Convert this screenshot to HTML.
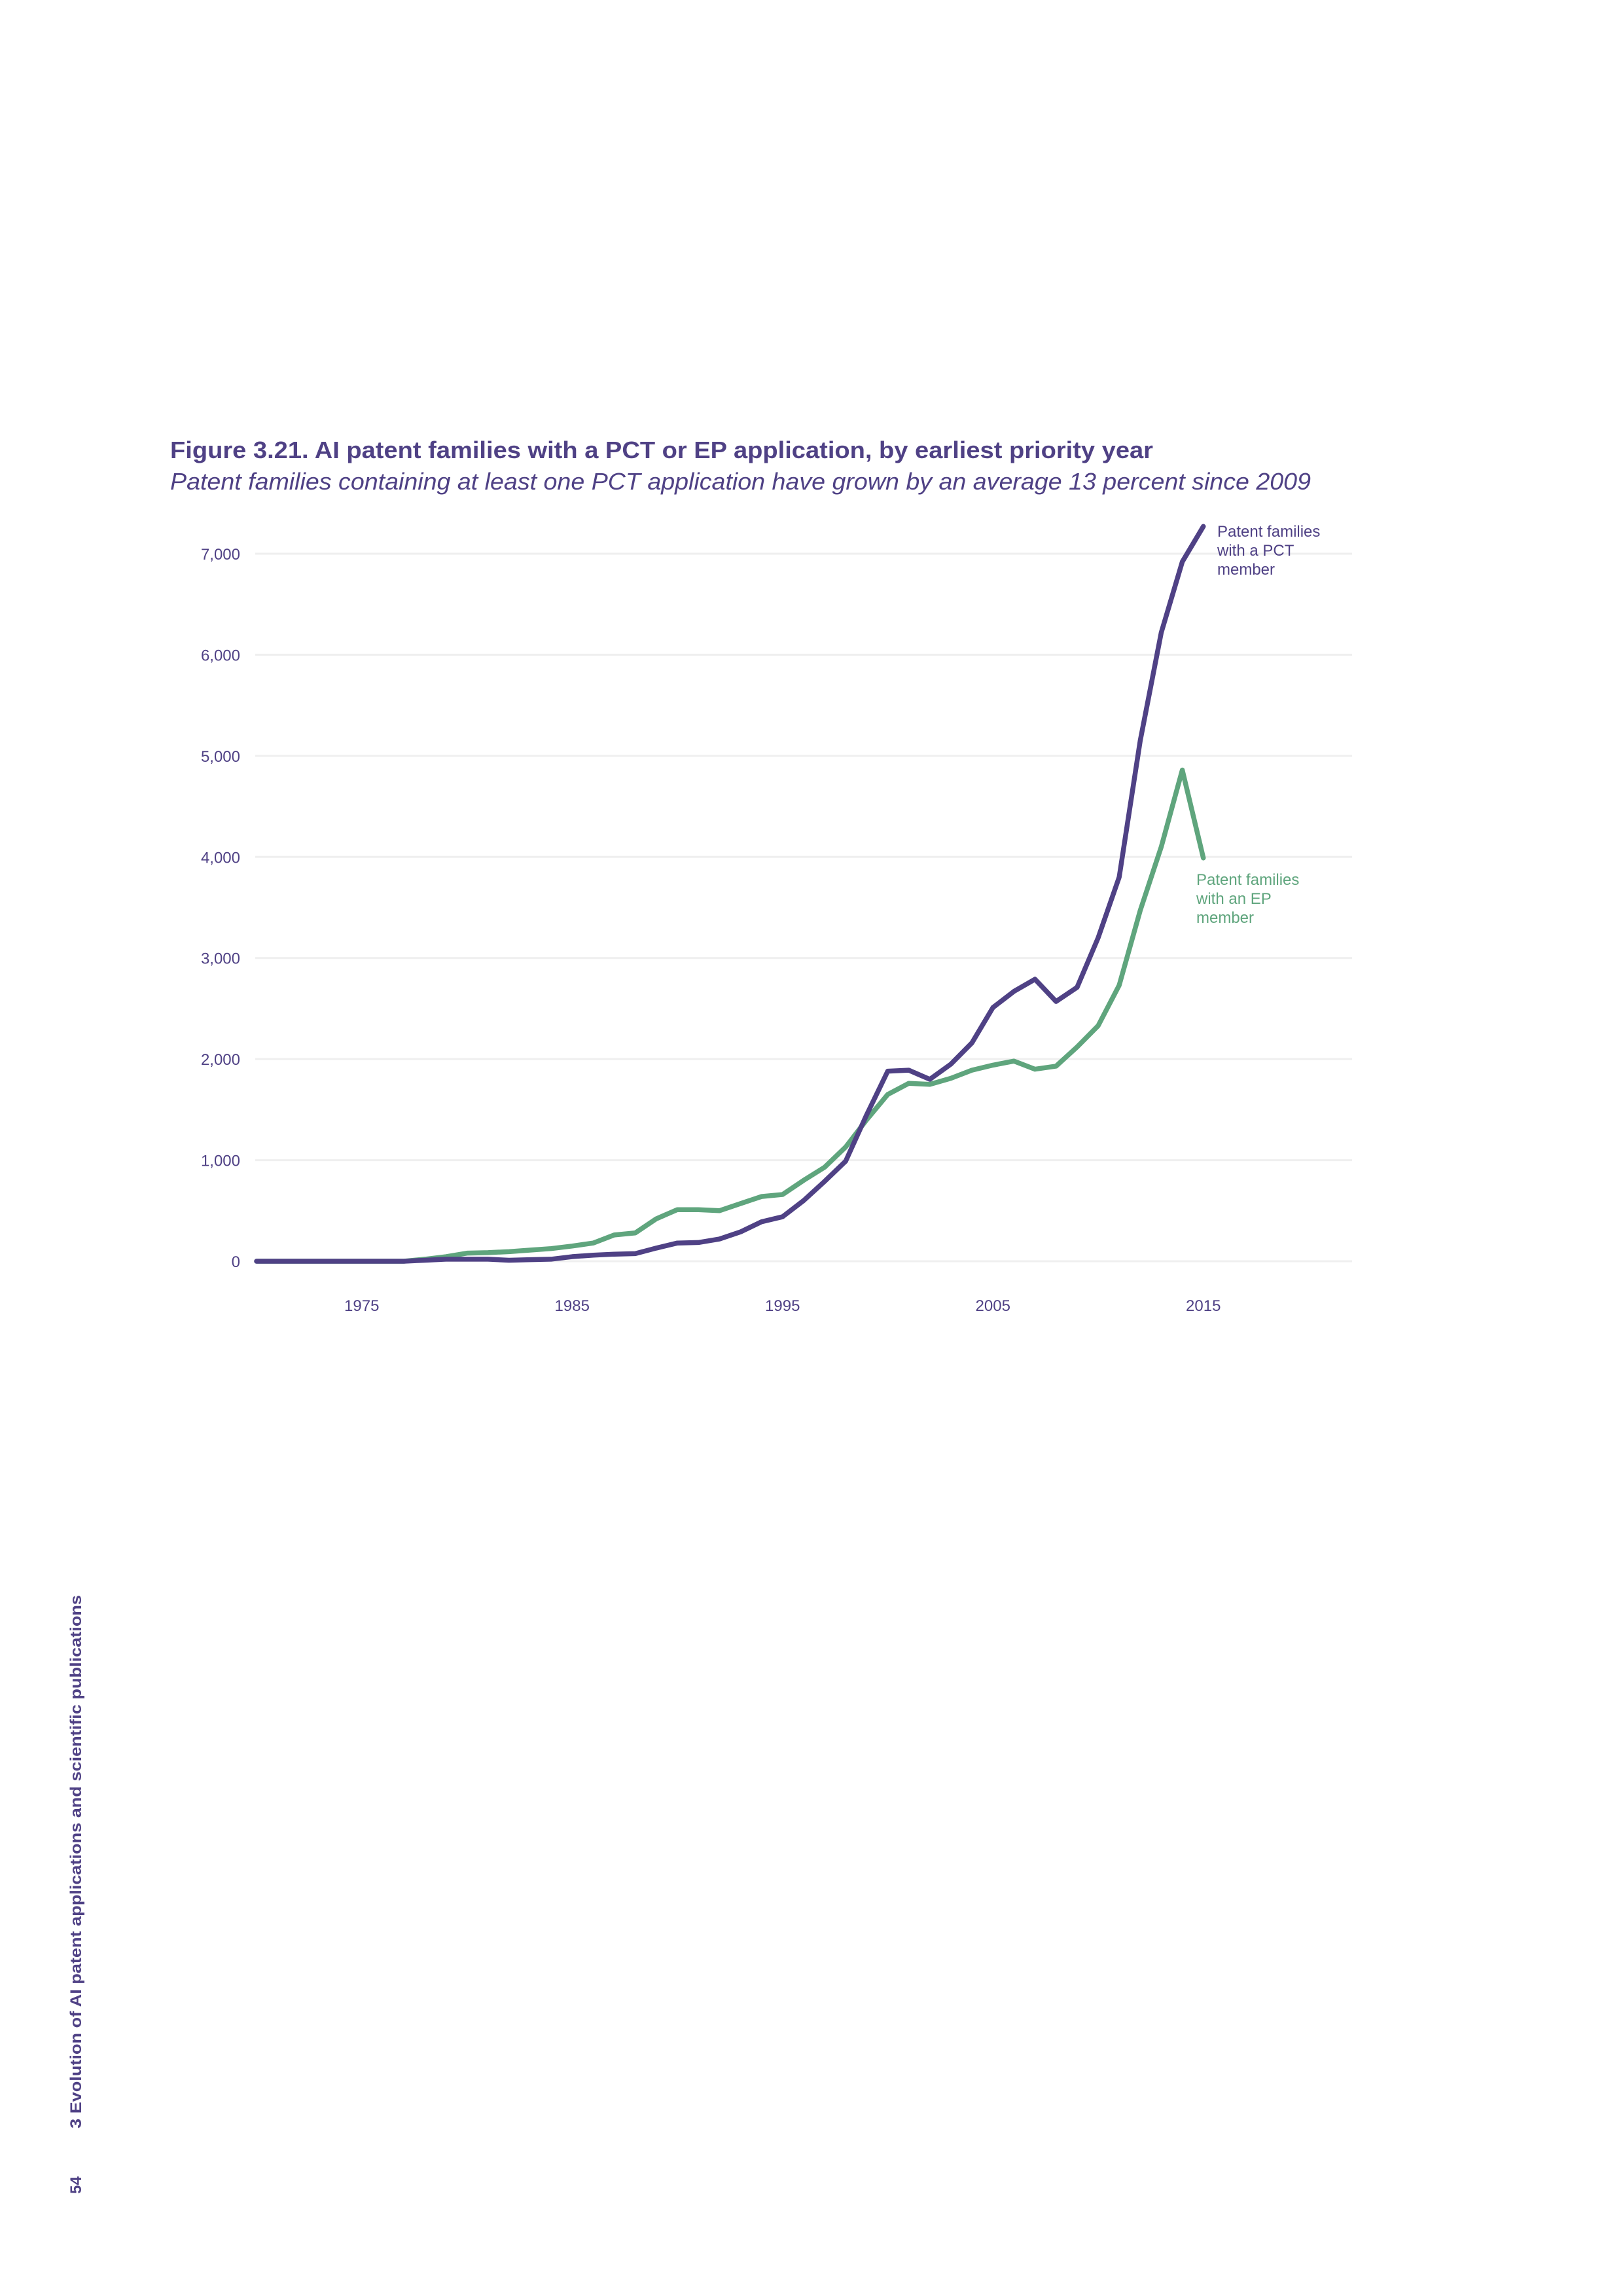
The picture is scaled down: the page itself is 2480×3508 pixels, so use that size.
<!DOCTYPE html>
<html><head><meta charset="utf-8"><style>
html,body{margin:0;padding:0;background:#fff;}
svg{display:block;font-family:"Liberation Sans",sans-serif;}
</style></head><body>
<svg id="chart" width="2480" height="3508" viewBox="0 0 2480 3508" xmlns="http://www.w3.org/2000/svg">
<text x="260" y="700" font-size="36" font-weight="bold" fill="#4f4185" textLength="1502" lengthAdjust="spacingAndGlyphs">Figure 3.21. AI patent families with a PCT or EP application, by earliest priority year</text>
<text x="260" y="748" font-size="36" font-style="italic" fill="#4f4185" textLength="1743" lengthAdjust="spacingAndGlyphs">Patent families containing at least one PCT application have grown by an average 13 percent since 2009</text>
<g id="grid"></g><g id="lines"></g>
<text fill="#4f4185" font-size="24"><tspan x="1860" y="820">Patent families</tspan><tspan x="1860" y="849">with a PCT</tspan><tspan x="1860" y="878">member</tspan></text>
<text fill="#5fa57d" font-size="24"><tspan x="1828" y="1352">Patent families</tspan><tspan x="1828" y="1381">with an EP</tspan><tspan x="1828" y="1410">member</tspan></text>
<text transform="translate(124,3252) rotate(-90)" font-size="24" font-weight="bold" fill="#4f4185" textLength="815" lengthAdjust="spacingAndGlyphs">3 Evolution of AI patent applications and scientific publications</text>
<text transform="translate(124,3352) rotate(-90)" font-size="24" font-weight="bold" fill="#4f4185">54</text>
</svg>
<script>
const years=[];for(let y=1970;y<=2015;y++)years.push(y);
const pctValues=[0,0,0,0,0,0,0,0,10,20,20,20,10,15,20,45,60,70,75,130,180,185,220,290,390,440,600,790,990,1450,1880,1890,1800,1950,2160,2510,2670,2790,2570,2710,3200,3800,5150,6220,6920,7270];
const epValues=[0,0,0,0,0,0,0,0,20,45,80,85,95,110,125,150,180,260,280,420,510,510,500,570,640,660,800,930,1130,1400,1650,1760,1750,1810,1890,1940,1980,1900,1930,2120,2330,2730,3470,4100,4860,3990];
const yTicks=[0,1000,2000,3000,4000,5000,6000,7000];
const yTickLabels=["0","1,000","2,000","3,000","4,000","5,000","6,000","7,000"];
const xTicks=[1975,1985,1995,2005,2015];
const NS="http://www.w3.org/2000/svg";
const xS=y=>392+(y-1970)*32.15;
const yS=v=>1927-v*0.15443;
const grid=document.getElementById('grid'),lines=document.getElementById('lines');
yTicks.forEach((t,i)=>{
 const l=document.createElementNS(NS,'line');
 l.setAttribute('x1',390);l.setAttribute('x2',2066);l.setAttribute('y1',yS(t));l.setAttribute('y2',yS(t));
 l.setAttribute('stroke','#efefef');l.setAttribute('stroke-width','3');
 
 
 grid.appendChild(l);
 const tx=document.createElementNS(NS,'text');
 tx.setAttribute('x',367);tx.setAttribute('y',yS(t)+9);tx.setAttribute('text-anchor','end');
 tx.setAttribute('font-size','24');tx.setAttribute('fill','#4f4185');tx.textContent=yTickLabels[i];
 
 
 grid.appendChild(tx);
});
xTicks.forEach(t=>{
 const tx=document.createElementNS(NS,'text');
 tx.setAttribute('x',xS(t));tx.setAttribute('y',2003);tx.setAttribute('text-anchor','middle');
 tx.setAttribute('font-size','24');tx.setAttribute('fill','#4f4185');tx.textContent=t;
 
 
 grid.appendChild(tx);
});
function drawLine(vals,color,name){
 const p=document.createElementNS(NS,'polyline');
 p.setAttribute('points',vals.map((v,i)=>xS(years[i])+','+yS(v)).join(' '));
 p.setAttribute('fill','none');p.setAttribute('stroke',color);p.setAttribute('stroke-width','7.5');
 p.setAttribute('stroke-linejoin','round');p.setAttribute('stroke-linecap','round');
 
 
 lines.appendChild(p);
}
drawLine(epValues,'#5fa57d','ep-series-line');
drawLine(pctValues,'#4f4185','pct-series-line');
</script>
</body></html>
